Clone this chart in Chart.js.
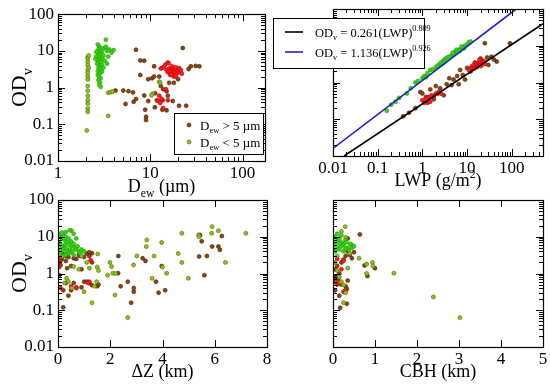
<!DOCTYPE html>
<html>
<head>
<meta charset="utf-8">
<script src="https://cdn.jsdelivr.net/npm/chart.js@4.4.0/dist/chart.umd.min.js"></script>
<style>
  body { margin: 0; background: #fff; }
  #wrap { position: relative; width: 550px; height: 384px; }
  #wrap canvas { position: absolute; left: 0; top: 0; }
</style>
</head>
<body>
<div id="wrap">
  <canvas id="c1" width="550" height="384"></canvas>
  <canvas id="c2" width="550" height="384"></canvas>
  <canvas id="c3" width="550" height="384"></canvas>
  <canvas id="c4" width="550" height="384"></canvas>
</div>
<script>
// ---------------------------------------------
// data ([x, y] pairs)
// ---------------------------------------------

// panel 1: OD_v vs D_ew
const p1Green = [[2.7,15],[2.8,13],[2.9,12],[2.75,11],[2.85,10],[3.0,9.5],[2.7,8.5],[2.9,8],[3.1,7.5],[2.6,7],
  [2.8,6.5],[3.0,6],[2.7,5.5],[2.9,5],[3.2,5.5],[2.65,4.5],[2.8,4],[3.0,4.2],[2.75,3.5],[2.9,3.2],[2.7,2.8],
  [2.85,2.5],[3.0,2.7],[2.7,2.2],[2.8,2.0],[2.9,1.8],[2.75,1.6],[2.85,1.4],[2.8,1.2],[2.9,1.05],[3.2,12],
  [3.4,10],[3.6,11],[3.8,9],[4.0,10.5],[3.5,7],[3.3,20],[2.6,9.5],[2.55,6],[3.1,3.5],[3.4,4.5],[3.3,13]];
const p1Olive = [[2.1,6.8],[2.1,6.2],[2.1,5.0],[2.1,4.1],[2.1,3.0],[2.1,2.5],[2.1,2.0],[2.1,1.66],[2.1,1.1],
  [2.1,0.82],[2.1,0.6],[2.1,0.45],[2.1,0.37],[2.1,0.27],[2.1,0.22],[2.05,0.068],[2.15,7.5],[2.15,3.5],
  [12.5,1.45],[12.8,1.35],[10.6,0.68],[10.3,0.62],[3.5,0.72],[3.7,0.75],[3.9,0.78],[3.5,0.17]];
const p1Red = [[14,3.6],[15,3.0],[15.5,2.6],[16,3.3],[16.5,2.8],[17,3.5],[17.5,2.4],[18,3.0],[18.5,2.7],[19,3.2],
  [19.5,2.5],[20,2.9],[20.5,3.4],[21,2.6],[16.5,2.2],[18,2.0],[19,2.0],[13,3.3],[14.5,4.2],[15.8,4.6],[17.2,3.8],
  [21.5,3.0],[22,2.4],[12.5,0.6],[13.2,0.5],[12.2,0.43],[12.8,0.38],[15.5,0.45],[14.8,0.9],[13.8,0.28],[16.8,2.3],[18.8,3.6]];
const p1Brown = [[7.0,10.8],[22.5,12],[7.8,5.5],[8.6,5.4],[7.8,2.2],[9.5,1.7],[10.5,1.8],[11,3.8],[27.5,3.8],
  [31,3.9],[34,3.8],[26,3.2],[5.1,0.83],[5.8,0.8],[6.5,0.74],[8.6,0.61],[11.3,0.7],[15,0.8],[15.5,0.6],[18,1.35],
  [16,1.35],[5.4,0.36],[6.6,0.41],[7.0,0.49],[9.5,0.43],[11.8,0.45],[13.6,0.45],[17.5,0.43],[20.5,0.32],
  [24.5,0.32],[11.2,0.29],[13.5,0.25],[15,0.24],[8.8,0.25],[9,0.16],[9,0.13],[4.2,0.83],[13,1.1],[13.5,3.5],
  [15.5,4.8],[12.5,2.0],[20,1.7],[11,2.0],[13.8,0.9]];

// panel 2: OD_v vs LWP, with the two fits
const p2Green = [[0.16,0.17],[0.2,0.25],[0.25,0.3],[0.3,0.38],[0.45,0.5],[0.55,0.7],[0.7,1.0],[0.8,1.1],[1.0,1.3],
  [1.1,1.5],[1.3,1.8],[1.5,2.2],[1.7,2.3],[2.0,2.6],[2.3,3.0],[2.6,3.5],[3.0,4.0],[3.3,4.5],[3.6,4.8],[4.0,5.0],
  [4.5,5.5],[5.0,6.0],[5.5,7.0],[6.0,6.8],[6.5,7.5],[7.0,8.0],[8.0,9.0],[9.0,10],[10,11],[11,12.5],[12,13],
  [3.2,3.7],[2.8,3.2],[4.8,6.5],[5.8,7.8],[7.5,9.5],[8.5,8.5],[6.8,7.2],[2.2,2.8],[1.2,1.4]];
const p2Red = [[1.0,0.33],[1.2,0.37],[1.4,0.4],[1.6,0.45],[1.8,0.42],[2.0,0.5],[2.3,0.55],[1.5,0.3],[2.6,0.5],
  [1.1,0.28],[12,2.5],[13,2.8],[14,3.0],[15,2.7],[16,3.3],[17,3.0],[18,3.5],[19,3.2],[20,3.6],[21,3.3],[22,4.0],
  [23,3.4],[24,3.8],[14.5,2.4],[16.5,2.6],[18.5,2.9],[20.5,2.8],[25,3.2],[11,2.2],[19,4.2]];
const p2Brown = [[0.37,0.12],[0.5,0.15],[0.7,0.2],[0.9,0.55],[1.0,0.5],[1.2,0.4],[1.5,0.65],[2.0,0.8],[2.5,0.7],
  [3.0,0.45],[1.8,0.35],[4.0,1.3],[5.0,1.2],[6.0,1.5],[7.0,2.2],[8.0,1.6],[10,2.5],[12,2.0],[15,3.5],[20,4.5],
  [25,11.7],[91,11.7],[46,3.7],[40,4.2],[35,5.0],[30,3.0],[28,4.8],[6.5,0.9],[1.3,0.28],[4.5,0.85],[9,1.2],
  [2.2,0.5],[3.5,0.9]];
// fit lines: end points (OD_v = 0.261 LWP^0.809 and 1.136 LWP^0.926)
const fitBlackX = [0.0177, 500];
const fitBlackY = [0.01, 39.8];
const fitBlueX = [0.01, 126];
const fitBlueY = [0.0161, 100];

// panel 3: OD_v vs dZ
const p3Green = [[0.05,10],[0.1,12],[0.15,9],[0.2,11],[0.25,8],[0.3,10],[0.35,7],[0.4,9],[0.45,6],[0.5,7.5],
  [0.55,5.5],[0.6,6.5],[0.65,5],[0.7,4.5],[0.75,5.5],[0.8,4],[0.05,7],[0.1,6],[0.15,5],[0.2,4.5],[0.25,6],
  [0.3,5],[0.35,4],[0.4,3.5],[0.45,4.5],[0.5,3.8],[0.55,4],[0.6,3.2],[0.05,4],[0.1,3.5],[0.2,3],[0.3,3.2],
  [0.9,4.5],[1.0,4],[0.85,3.6],[0.15,13],[0.3,13.5],[0.45,15],[0.6,12],[0.7,9]];
const p3Olive = [[1.52,3.4],[1.5,1.5],[1.55,1.2],[1.99,2.0],[2.05,1.54],[2.1,1.02],[2.2,1.0],[2.18,0.26],[1.9,0.9],
  [1.3,0.16],[1.4,0.45],[1.48,0.6],[2.67,0.063],[2.89,1.7],[3.02,3.0],[3.4,8.2],[3.38,5.4],[3.68,3.0],[3.97,7.0],
  [4.0,1.5],[4.16,1.02],[3.6,0.74],[4.74,12.4],[4.74,2.0],[4.6,3.5],[4.99,0.74],[5.38,11.2],[5.4,10],[5.9,18.8],
  [5.88,12.4],[6.14,14.6],[6.41,2.0],[7.19,12.4],[0.33,0.74],[0.4,0.6],[0.52,0.4],[1.0,0.32],[0.8,1.3],[0.6,1.54],
  [1.2,1.4],[1.1,2.0],[0.52,14.6],[0.9,3.0],[0.25,0.55]];
const p3Red = [[0.05,1.5],[0.1,2.7],[1.2,0.6],[1.15,0.55],[0.5,0.45],[0.7,0.42],[1.25,2.3],[0.1,0.4],[0.05,0.9]];
const p3Brown = [[2.31,3.0],[2.3,1.02],[2.67,0.6],[3.24,2.6],[3.35,2.2],[3.75,0.6],[3.97,1.6],[4.1,0.35],[3.85,0.3],
  [2.9,0.32],[2.9,0.4],[2.8,0.16],[2.4,0.45],[5.44,11.2],[5.5,7.5],[5.7,3.0],[5.9,5.4],[6.14,5.4],[6.2,4.4],
  [6.27,10.5],[5.6,0.9],[5.4,2.9],[1.3,3.55],[1.3,2.0],[1.5,0.45],[1.55,0.5],[1.0,0.6],[1.2,0.55],[0.9,0.42],
  [0.7,0.4],[0.5,0.35],[0.4,0.25],[0.2,0.12],[0.6,0.55],[1.1,0.6],[1.3,0.48],[0.9,1.3],[0.5,1.6],[0.35,1.4],
  [0.15,2.5],[0.3,2.2],[0.1,1.7],[0.7,2.5],[1.2,3.0],[1.1,3.5],[0.85,3.0],[0.3,0.55],[0.2,0.35],[0.2,3.4],
  [0.4,2.8],[0.6,2.6],[0.8,3.2],[1.0,2.8],[1.2,3.8],[0.3,3.0],[0.1,2.3]];

// panel 4: OD_v vs CBH
const p4Green = [[0.05,10],[0.1,8],[0.15,9],[0.2,7],[0.25,6],[0.3,8],[0.35,5],[0.4,6.5],[0.05,6],[0.1,5],[0.15,4.5],
  [0.2,5.5],[0.25,4],[0.3,4.8],[0.1,12],[0.2,11],[0.3,7],[0.05,4],[0.15,6.5],[0.45,5],[0.5,5.5]];
const p4Olive = [[0.29,18.8],[0.62,2.6],[0.8,1.8],[0.94,2.0],[0.95,1.6],[0.8,1.0],[1.45,1.02],[2.39,0.23],[3.02,0.063],
  [0.25,0.16],[0.25,0.49],[0.3,0.3],[0.2,0.6],[0.15,0.8],[0.1,1.2],[0.35,1.4],[0.2,14],[0.38,4.4],[0.4,3.5],
  [0.45,6],[0.3,9.5],[0.1,3.0],[0.05,2.0]];
const p4Red = [[0.1,2.5],[0.2,1.3],[0.15,0.55],[0.05,0.6],[0.25,2.2],[0.3,0.35]];
const p4Brown = [[0.64,11.6],[0.75,1.65],[1.0,1.4],[0.82,0.85],[0.17,0.117],[0.33,0.15],[0.33,0.38],[0.35,0.64],
  [0.25,0.32],[0.1,0.5],[0.05,0.35],[0.15,0.25],[0.3,3.0],[0.35,4.0],[0.2,2.0],[0.1,1.6],[0.05,1.3],[0.25,2.4],
  [0.4,3.2],[0.45,2.6],[0.5,3.8],[0.35,9.0],[0.15,1.0],[0.12,0.7],[0.05,0.8],[0.3,0.45],[0.2,0.5]];

// tick labels
const odTicks = [0.01, 0.1, 1, 10, 100];
const dewTicks = [1, 10, 100];
const lwpTicks = [0.01, 0.1, 1, 10, 100];

// ---------------------------------------------
// look
// ---------------------------------------------
const SERIF = '"Liberation Serif", "Times New Roman", serif';
const COL = {
    green: ["#35d416", "#20a000"],
    olive: ["#8cc21c", "#4f6a00"],
    red:   ["#ff1c1c", "#c80000"],
    brown: ["#8b4513", "#4a2200"]
};
const X_H = 30;   // height reserved for the x axis

function pts(arr) {
    return arr.map(function (p) { return { x: p[0], y: p[1] }; });
}

function dots(arr, c) {
    return {
        data: pts(arr),
        backgroundColor: COL[c][0],
        borderColor: COL[c][1],
        borderWidth: 0.6,
        pointRadius: 2.0
    };
}

function fitLine(xs, ys, color) {
    return {
        type: "line",
        data: xs.map(function (x, i) { return { x: x, y: ys[i] }; }),
        borderColor: color,
        borderWidth: 1.6,
        pointRadius: 0,
        showLine: true,
        fill: false
    };
}

function decadeMinors(lo, hi) {
    const out = [];
    for (let d = lo; d < hi; d *= 10) {
        for (let k = 2; k <= 9; k++) out.push(d * k);
    }
    return out;
}

// text with sub/superscripts: parts = [[text, ""|"sub"|"sup"], ...]
function richWidth(ctx, parts, size) {
    let w = 0;
    parts.forEach(function (p) {
        const s = p[1] ? size * 0.65 : size;
        ctx.font = s + "px " + SERIF;
        w += ctx.measureText(p[0]).width;
    });
    return w;
}

function drawRich(ctx, parts, x, y, size) {
    let cx = x;
    parts.forEach(function (p) {
        const s = p[1] ? size * 0.65 : size;
        let dy = 0;
        if (p[1] === "sub") dy = size * 0.25;
        if (p[1] === "sup") dy = -size * 0.42;
        ctx.font = s + "px " + SERIF;
        ctx.fillText(p[0], cx, y + dy);
        cx += ctx.measureText(p[0]).width;
    });
}

// frame, inward ticks on all four sides, axis titles, in-plot legends
const decorPlugin = {
    id: "decor",
    afterDraw: function (chart, args, o) {
        const ctx = chart.ctx;
        const a = chart.chartArea;
        const xs = chart.scales.x, ys = chart.scales.y;
        ctx.save();
        ctx.strokeStyle = "#000";
        ctx.fillStyle = "#000";
        ctx.lineWidth = 1;

        function seg(x1, y1, x2, y2) {
            ctx.beginPath(); ctx.moveTo(x1, y1); ctx.lineTo(x2, y2); ctx.stroke();
        }
        function xTick(v, len) {
            const px = Math.round(xs.getPixelForValue(v)) + 0.5;
            seg(px, a.bottom, px, a.bottom - len);
            seg(px, a.top, px, a.top + len);
        }
        function yTick(v, len) {
            const py = Math.round(ys.getPixelForValue(v)) + 0.5;
            seg(a.left, py, a.left + len, py);
            seg(a.right, py, a.right - len, py);
        }
        (o.xMajor || []).forEach(function (v) { xTick(v, 7); });
        (o.xMinor || []).forEach(function (v) { xTick(v, 4); });
        (o.yMajor || []).forEach(function (v) { yTick(v, 7); });
        (o.yMinor || []).forEach(function (v) { yTick(v, 4); });

        ctx.lineWidth = 1.2;
        ctx.strokeRect(Math.round(a.left) + 0.5, Math.round(a.top) + 0.5,
            Math.round(a.right - a.left), Math.round(a.bottom - a.top));

        // x title
        if (o.xTitle) {
            const w = richWidth(ctx, o.xTitle, 18);
            drawRich(ctx, o.xTitle, (a.left + a.right) / 2 - w / 2, o.xTitleY, 18);
        }
        // y title, rotated
        if (o.yTitle) {
            ctx.save();
            ctx.translate(26, (a.top + a.bottom) / 2);
            ctx.rotate(-Math.PI / 2);
            const w = richWidth(ctx, o.yTitle, 22);
            drawRich(ctx, o.yTitle, -w / 2, 0, 22);
            ctx.restore();
        }

        // legend box
        if (o.legend) {
            const L = o.legend;
            ctx.fillStyle = "#fff";
            ctx.fillRect(L.x, L.y, L.w, L.h);
            ctx.lineWidth = 1;
            ctx.strokeStyle = "#000";
            ctx.strokeRect(L.x + 0.5, L.y + 0.5, L.w, L.h);
            L.rows.forEach(function (r, i) {
                const cy = L.y + L.first + i * L.step;
                if (r.dot) {
                    ctx.beginPath();
                    ctx.arc(L.x + 15, cy, 2.0, 0, Math.PI * 2);
                    ctx.fillStyle = COL[r.dot][0];
                    ctx.fill();
                    ctx.lineWidth = 0.6;
                    ctx.strokeStyle = COL[r.dot][1];
                    ctx.stroke();
                } else {
                    ctx.lineWidth = 1.6;
                    ctx.strokeStyle = r.line;
                    seg(L.x + 12, cy, L.x + 30, cy);
                }
                ctx.fillStyle = "#000";
                drawRich(ctx, r.text, L.x + L.textX, cy + 4.5, L.size);
            });
        }
        ctx.restore();
    }
};

function makePanel(id, area, xOpt, yOpt, datasets, decor) {
    const tickFont = { family: SERIF, size: 17 };
    return new Chart(document.getElementById(id), {
        type: "scatter",
        data: { datasets: datasets },
        options: {
            responsive: false,
            animation: false,
            events: [],
            layout: { padding: { left: 0, top: area.t, right: 550 - area.r, bottom: 384 - area.b - X_H } },
            plugins: {
                legend: { display: false },
                tooltip: { enabled: false },
                decor: decor
            },
            scales: {
                x: Object.assign({
                    position: "bottom",
                    grid: { display: false, drawTicks: false },
                    border: { display: false },
                    afterFit: function (s) { s.height = X_H; }
                }, xOpt, {
                    ticks: Object.assign({ color: "#000", font: tickFont, padding: 2, maxRotation: 0 }, xOpt.ticks)
                }),
                y: Object.assign({
                    position: "left",
                    grid: { display: false, drawTicks: false },
                    border: { display: false },
                    afterFit: function (s) { s.width = area.l; }
                }, yOpt, {
                    ticks: Object.assign({ color: "#000", font: tickFont, padding: 4 }, yOpt.ticks)
                })
            }
        },
        plugins: [decorPlugin]
    });
}

function logAxis(min, max, labels, show) {
    return {
        type: "logarithmic",
        min: min,
        max: max,
        afterBuildTicks: function (s) {
            s.ticks = labels.map(function (v) { return { value: v }; });
        },
        ticks: { display: show, autoSkip: false, callback: function (v) { return String(v); } }
    };
}

function linAxis(max, step) {
    return { type: "linear", min: 0, max: max, ticks: { stepSize: step } };
}

const odMinor = decadeMinors(0.01, 100);
const odTitle = [["OD", ""], ["v", "sub"]];

// ---------------------------------------------
// 1. OD_v vs D_ew
// ---------------------------------------------
makePanel("c1", { l: 58, t: 9, r: 265, b: 161 },
    logAxis(1, 175, dewTicks, true),
    logAxis(0.01, 100, odTicks, true),
    [dots(p1Green, "green"), dots(p1Olive, "olive"), dots(p1Red, "red"), dots(p1Brown, "brown")],
    {
        xMajor: dewTicks, xMinor: decadeMinors(1, 100).filter(function (v) { return v < 175; }),
        yMajor: odTicks, yMinor: odMinor,
        xTitle: [["D", ""], ["ew", "sub"], [" (\u00b5m)", ""]], xTitleY: 192,
        yTitle: odTitle,
        legend: {
            x: 174, y: 113, w: 89, h: 41, first: 12, step: 17, textX: 26, size: 13,
            rows: [
                { dot: "brown", text: [["D", ""], ["ew", "sub"], [" > 5 \u00b5m", ""]] },
                { dot: "olive", text: [["D", ""], ["ew", "sub"], [" < 5 \u00b5m", ""]] }
            ]
        }
    });

// ---------------------------------------------
// 2. OD_v vs LWP
// ---------------------------------------------
makePanel("c2", { l: 333, t: 9, r: 543, b: 156 },
    logAxis(0.01, 500, lwpTicks, true),
    logAxis(0.01, 100, odTicks, false),
    [fitLine(fitBlueX, fitBlueY, "#1c22c8"), fitLine(fitBlackX, fitBlackY, "#000"),
     dots(p2Green, "green"), dots(p2Red, "red"), dots(p2Brown, "brown")],
    {
        xMajor: lwpTicks, xMinor: decadeMinors(0.01, 100).concat([200, 300, 400]),
        yMajor: odTicks, yMinor: odMinor,
        xTitle: [["LWP (g/m", ""], ["2", "sup"], [")", ""]], xTitleY: 186,
        legend: {
            x: 273, y: 18, w: 151, h: 50, first: 14, step: 20, textX: 42, size: 12.5,
            rows: [
                { line: "#000", text: [["OD", ""], ["v", "sub"], [" = 0.261(LWP)", ""], ["0.809", "sup"]] },
                { line: "#1c22c8", text: [["OD", ""], ["v", "sub"], [" = 1.136(LWP)", ""], ["0.926", "sup"]] }
            ]
        }
    });

// ---------------------------------------------
// 3. OD_v vs dZ
// ---------------------------------------------
makePanel("c3", { l: 58, t: 200, r: 267, b: 347 },
    linAxis(8, 2),
    logAxis(0.01, 100, odTicks, true),
    [dots(p3Green, "green"), dots(p3Olive, "olive"), dots(p3Red, "red"), dots(p3Brown, "brown")],
    {
        xMajor: [0, 2, 4, 6, 8], xMinor: [],
        yMajor: odTicks, yMinor: odMinor,
        xTitle: [["\u0394Z (km)", ""]], xTitleY: 377,
        yTitle: odTitle
    });

// ---------------------------------------------
// 4. OD_v vs CBH
// ---------------------------------------------
makePanel("c4", { l: 333, t: 200, r: 543, b: 347 },
    linAxis(5, 1),
    logAxis(0.01, 100, odTicks, false),
    [dots(p4Green, "green"), dots(p4Olive, "olive"), dots(p4Red, "red"), dots(p4Brown, "brown")],
    {
        xMajor: [0, 1, 2, 3, 4, 5], xMinor: [],
        yMajor: odTicks, yMinor: odMinor,
        xTitle: [["CBH (km)", ""]], xTitleY: 377
    });
</script>
</body>
</html>
